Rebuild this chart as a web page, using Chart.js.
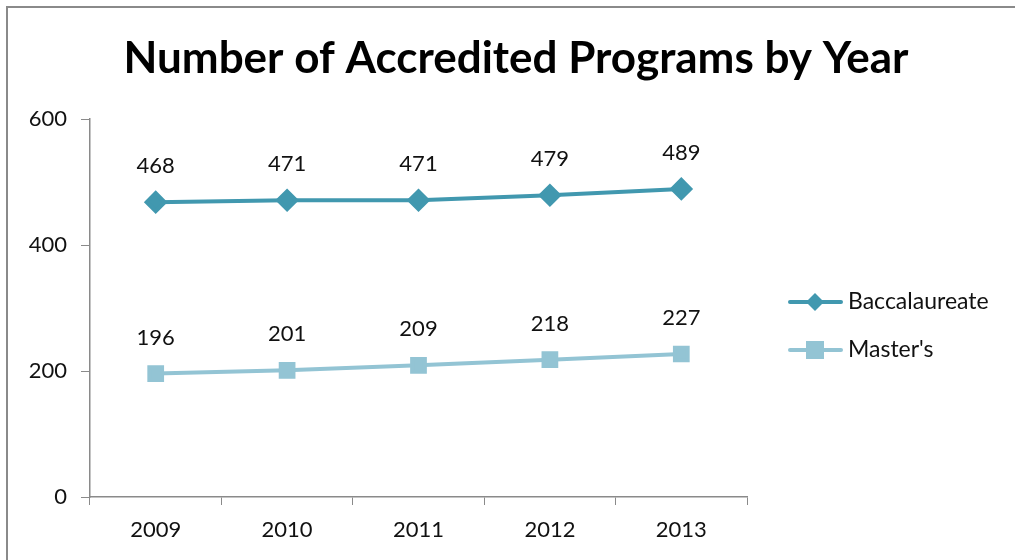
<!DOCTYPE html>
<html>
<head>
<meta charset="utf-8">
<script src="https://cdn.jsdelivr.net/npm/chart.js@4"></script>
<style>
  html, body { margin: 0; padding: 0; background: #fff; overflow: hidden; }
  #wrap { width: 1015px; height: 560px; }
</style>
</head>
<body>
<div id="wrap"><canvas id="chart" width="1015" height="560"></canvas></div>
<script>
// chart data
const years = ['2009', '2010', '2011', '2012', '2013'];
const baccalaureate = [468, 471, 471, 479, 489];
const masters = [196, 201, 209, 218, 227];
const yTicks = [0, 200, 400, 600];
const chartTitle = 'Number of Accredited Programs by Year';

const FONT = 'Lato, "Open Sans", sans-serif';

// frame, title, data labels and legend drawn by hand
const decorPlugin = {
    id: 'decor',
    beforeDraw(chart) {
        const ctx = chart.ctx;
        ctx.save();
        ctx.fillStyle = '#fff';
        ctx.fillRect(0, 0, chart.width, chart.height);
        ctx.strokeStyle = '#8a8a8a';
        ctx.lineWidth = 2;
        ctx.beginPath();
        ctx.moveTo(7, chart.height);
        ctx.lineTo(7, 7);
        ctx.lineTo(chart.width, 7);
        ctx.stroke();
        ctx.restore();
    },
    afterDatasetsDraw(chart) {
        const ctx = chart.ctx;
        ctx.save();
        // title
        ctx.fillStyle = '#000';
        ctx.font = 'bold 44px ' + FONT;
        ctx.textAlign = 'center';
        ctx.textBaseline = 'middle';
        ctx.fillText(chartTitle, 516, 59);
        // data labels
        ctx.font = '22px ' + FONT;
        ctx.fillStyle = '#111';
        chart.data.datasets.forEach((ds, i) => {
            chart.getDatasetMeta(i).data.forEach((pt, j) => {
                ctx.fillText(String(ds.data[j]), pt.x, pt.y - 36);
            });
        });
        // legend
        chart.data.datasets.forEach((ds, i) => {
            const y = 302 + i * 48;
            ctx.strokeStyle = ds.borderColor;
            ctx.lineWidth = 4;
            ctx.lineCap = 'round';
            ctx.beginPath();
            ctx.moveTo(790, y);
            ctx.lineTo(841, y);
            ctx.stroke();
            ctx.fillStyle = ds.pointBackgroundColor;
            if (ds.pointStyle === 'rectRot') {
                ctx.beginPath();
                ctx.moveTo(815, y - 9);
                ctx.lineTo(824, y);
                ctx.lineTo(815, y + 9);
                ctx.lineTo(806, y);
                ctx.closePath();
                ctx.fill();
            } else {
                ctx.fillRect(806, y - 9, 18, 18);
            }
            ctx.fillStyle = '#111';
            ctx.font = '23px ' + FONT;
            ctx.textAlign = 'left';
            ctx.fillText(ds.label, 848, y);
        });
        ctx.restore();
    }
};

new Chart(document.getElementById('chart'), {
    type: 'line',
    data: {
        labels: years,
        datasets: [
            {
                label: 'Baccalaureate',
                data: baccalaureate,
                borderColor: '#4198af',
                backgroundColor: '#4198af',
                pointBackgroundColor: '#4198af',
                pointBorderColor: '#4198af',
                borderWidth: 4,
                pointStyle: 'rectRot',
                pointRadius: 9,
                pointHoverRadius: 9,
                tension: 0
            },
            {
                label: "Master's",
                data: masters,
                borderColor: '#93c4d4',
                backgroundColor: '#93c4d4',
                pointBackgroundColor: '#93c4d4',
                pointBorderColor: '#93c4d4',
                borderWidth: 4,
                pointStyle: 'rect',
                pointRadius: 9,
                pointHoverRadius: 9,
                tension: 0
            }
        ]
    },
    options: {
        responsive: false,
        animation: false,
        layout: { padding: { left: 10, top: 119, right: 268, bottom: 10 } },
        plugins: {
            legend: { display: false },
            title: { display: false },
            tooltip: { enabled: false }
        },
        scales: {
            x: {
                offset: true,
                grid: { offset: true, drawOnChartArea: false, drawTicks: true, tickLength: 8, color: '#8a8a8a' },
                border: { display: true, color: '#8a8a8a', width: 1.5 },
                ticks: { color: '#111', font: { family: FONT, size: 22 }, padding: 12 },
                afterFit(scale) { scale.height = 560 - 497 - 10; }
            },
            y: {
                min: 0,
                max: 600,
                afterBuildTicks(scale) { scale.ticks = yTicks.map(v => ({ value: v })); },
                grid: { drawOnChartArea: false, drawTicks: true, tickLength: 9, color: '#8a8a8a' },
                border: { display: true, color: '#8a8a8a', width: 1.5 },
                ticks: { color: '#111', font: { family: FONT, size: 22 }, padding: 14 },
                afterFit(scale) { scale.width = 90 - 10; }
            }
        }
    },
    plugins: [decorPlugin]
});
</script>
</body>
</html>
